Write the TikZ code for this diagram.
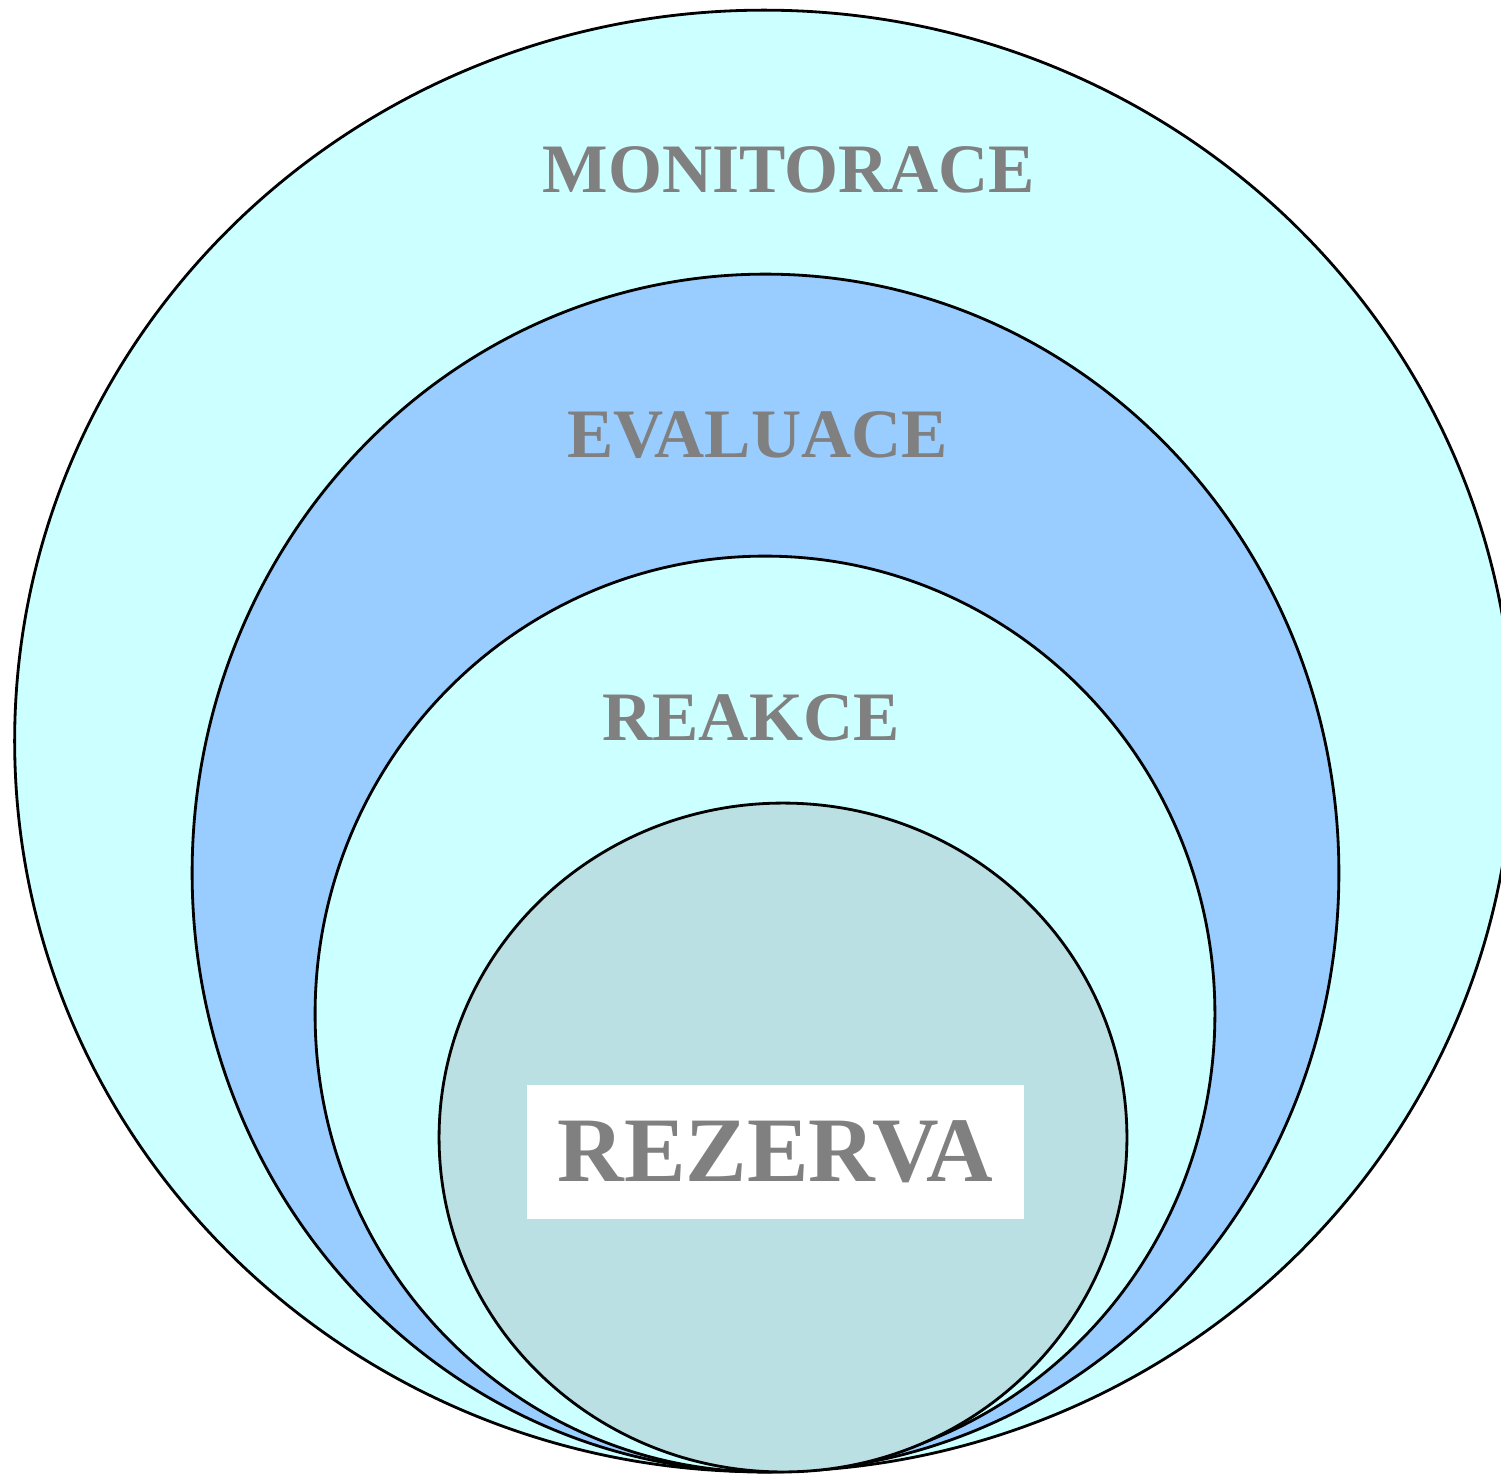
\documentclass[tikz,border=0pt]{standalone}
\usepackage{fontspec}
\setmainfont{Liberation Serif}
\usetikzlibrary{shapes.geometric}
\definecolor{PaleCyan}{RGB}{204,255,255}
\definecolor{SkyBlue}{RGB}{153,204,255}
\definecolor{PaleTeal}{RGB}{187,224,227}
\definecolor{LabelGray}{RGB}{128,128,128}

\begin{document}
\begin{tikzpicture}[
	x=0.02cm, y=-0.02cm,
	ring/.style={ellipse, draw, line width=1.6pt, inner sep=0pt},
	tag/.style={text=LabelGray, font=\bfseries\fontsize{39.5}{40}\selectfont, inner sep=0pt},
	bigtag/.style={text=LabelGray, font=\bfseries\fontsize{52.5}{53}\selectfont, fill=white,
		minimum width=9.94cm, minimum height=2.68cm, inner sep=0pt}
]
	\useasboundingbox (0,0) rectangle (1501,1474);
	\clip (0,0) rectangle (1501,1474);

	% nested rings, all touching at the bottom
	\node[ring, fill=PaleCyan, minimum width=29.98cm, minimum height=29.24cm] (monitor) at (764,741) {};
	\node[ring, fill=SkyBlue, minimum width=22.94cm, minimum height=23.96cm] (eval) at (765.5,873) {};
	\node[ring, fill=PaleCyan, minimum width=18cm, minimum height=18.32cm] (react) at (765,1014) {};
	\node[ring, fill=PaleTeal, minimum width=13.76cm, minimum height=13.38cm] (reserve) at (783,1137.5) {};

	% labels
	\node[tag] (monitorlabel) at (789,170) {MONITORACE};
	\node[tag] (evallabel) at (757.5,435.5) {EVALUACE};
	\node[tag] (reactlabel) at (751,717.5) {REAKCE};
	\node[bigtag] (reservelabel) at (775.5,1152) {REZERVA\hspace{0.32cm}};

\end{tikzpicture}
\end{document}
